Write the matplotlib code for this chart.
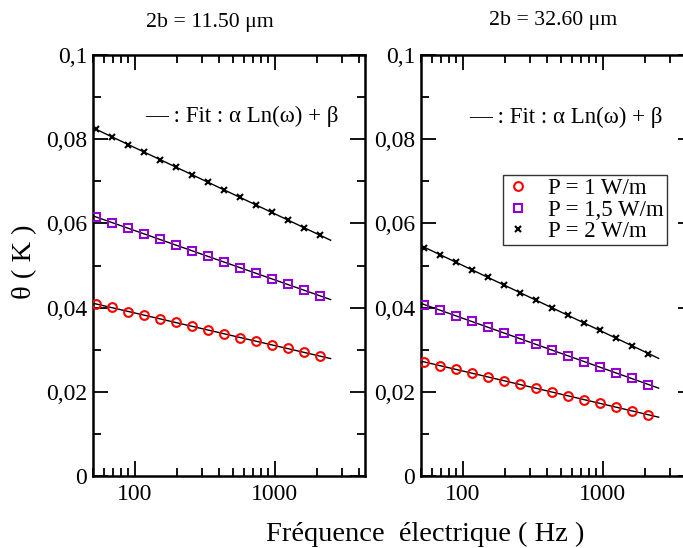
import numpy as np
import matplotlib
matplotlib.use("Agg")
import matplotlib.pyplot as plt
from matplotlib.ticker import FixedLocator, NullFormatter, LogLocator

plt.rcParams['font.family'] = ['Liberation Serif', 'DejaVu Serif']

# ---------------- data ----------------
freq = [53, 69, 90, 117, 152, 197, 256, 333, 433, 563, 732, 951, 1237, 1608, 2090]

left_p1 = [0.04085, 0.04006, 0.03904, 0.03816, 0.03729, 0.03650, 0.03555, 0.03460,
           0.03380, 0.03285, 0.03198, 0.03119, 0.03032, 0.02937, 0.02850]
left_p15 = [0.06143, 0.06016, 0.05882, 0.05755, 0.05621, 0.05486, 0.05351, 0.05218,
            0.05083, 0.04940, 0.04814, 0.04686, 0.04553, 0.04418, 0.04275]
left_p2 = [0.08234, 0.08051, 0.07869, 0.07695, 0.07512, 0.07331, 0.07156, 0.06975,
           0.06800, 0.06619, 0.06443, 0.06263, 0.06087, 0.05897, 0.05717]

right_p1 = [0.02700, 0.02620, 0.02534, 0.02446, 0.02351, 0.02256, 0.02178, 0.02083,
            0.01995, 0.01900, 0.01812, 0.01734, 0.01639, 0.01551, 0.01449]
right_p15 = [0.04054, 0.03935, 0.03800, 0.03674, 0.03539, 0.03396, 0.03261, 0.03135,
             0.02993, 0.02857, 0.02715, 0.02589, 0.02453, 0.02320, 0.02161]
right_p2 = [0.05422, 0.05249, 0.05075, 0.04900, 0.04719, 0.04536, 0.04353, 0.04180,
            0.03997, 0.03817, 0.03641, 0.03460, 0.03285, 0.03095, 0.02900]

series_labels = ["P = 1 W/m", "P = 1,5 W/m", "P = 2 W/m"]
panel_titles = ["2b = 11.50 \u03bcm", "2b = 32.60 \u03bcm"]
fit_text = "\u2014 : Fit : \u03b1 Ln(\u03c9) + \u03b2"
y_ticks = [0, 0.02, 0.04, 0.06, 0.08, 0.1]
y_ticklabels = ["0", "0,02", "0,04", "0,06", "0,08", "0,1"]
x_ticks = [100, 1000]
x_ticklabels = ["100", "1000"]
fit_range = [50, 2500]

# ---------------- style ----------------
colors = ["#ff0000", "#9400d3", "#000000"]
markers = ["o", "s", "x"]
msizes = [6.3, 6.0, 4.5]

fig = plt.figure(figsize=(6.83, 5.48), dpi=100)
W, H = 683.0, 548.0
ax_w = 272.3 / W
ax_h = 421.0 / H
ax_b = 72.0 / H
axL = fig.add_axes([92.7 / W, ax_b, ax_w, ax_h])
axR = fig.add_axes([420.7 / W, ax_b, ax_w, ax_h])

panels = [(axL, [left_p1, left_p15, left_p2]), (axR, [right_p1, right_p15, right_p2])]

for i, (ax, data) in enumerate(panels):
    ax.set_xscale("log")
    xf = np.array(freq, dtype=float)
    for j, ys in enumerate(data):
        ys = np.array(ys)
        # fit alpha*ln(f)+beta
        a, b = np.polyfit(np.log(xf), ys, 1)
        xl = np.array(fit_range, dtype=float)
        ax.plot(xl, a * np.log(xl) + b, color="black", lw=1.0, zorder=2)
        if markers[j] == "x":
            ax.plot(xf, ys, linestyle="none", marker="x", color=colors[j],
                    markersize=msizes[j], markeredgewidth=1.5, zorder=3,
                    label=series_labels[j])
        else:
            ax.plot(xf, ys, linestyle="none", marker=markers[j],
                    markerfacecolor="none", markeredgecolor=colors[j],
                    markersize=msizes[j], markeredgewidth=1.5, zorder=3,
                    label=series_labels[j])
    ax.set_xlim(50, 4400)
    ax.set_ylim(0, 0.1)
    ax.xaxis.set_major_locator(FixedLocator(x_ticks))
    ax.set_xticklabels(x_ticklabels)
    ax.xaxis.set_minor_locator(LogLocator(base=10, subs=np.arange(2, 10), numticks=20))
    ax.xaxis.set_minor_formatter(NullFormatter())
    ax.yaxis.set_major_locator(FixedLocator(y_ticks))
    ax.set_yticklabels(y_ticklabels)
    ax.yaxis.set_minor_locator(FixedLocator([0.01, 0.03, 0.05, 0.07, 0.09]))
    ax.tick_params(which="both", direction="in", top=True, right=True, width=1.3,
                   labelsize=17, pad=4)
    ax.tick_params(which="major", length=11)
    ax.tick_params(which="minor", length=6)
    ax.tick_params(axis="x", which="major", pad=6)
    for sp in ax.spines.values():
        sp.set_linewidth(1.8)

# panel titles
fig.text(210 / W, 1 - 22 / H, panel_titles[0], fontsize=15.7, va="center", ha="center")
fig.text(553 / W, 1 - 20 / H, panel_titles[1], fontsize=15.7, va="center", ha="center")

# fit annotation texts
fig.text(145 / W, 1 - 116 / H, fit_text, fontsize=16.5, va="center", ha="left")
fig.text(469 / W, 1 - 117 / H, fit_text, fontsize=16.5, va="center", ha="left")

# legend in right panel
leg = axR.legend(loc="upper left", bbox_to_anchor=((503 - 420.7) / 272.3, (476 - 175) / 421.0),
                 frameon=True, fancybox=False, edgecolor="black", fontsize=16.5,
                 handlelength=1.0, handletextpad=0.8, borderpad=0.15, labelspacing=0.0,
                 borderaxespad=0)
leg.get_frame().set_linewidth(1.0)

fig.text(25 / W, 1 - 262 / H, "\u03b8 ( K )", fontsize=20.5, rotation=90, va="center", ha="center")
fig.text(425 / W, 1 - 534 / H, "Fr\u00e9quence  \u00e9lectrique ( Hz )", fontsize=20.5,
         va="center", ha="center")

fig.savefig("out.png", dpi=100)
